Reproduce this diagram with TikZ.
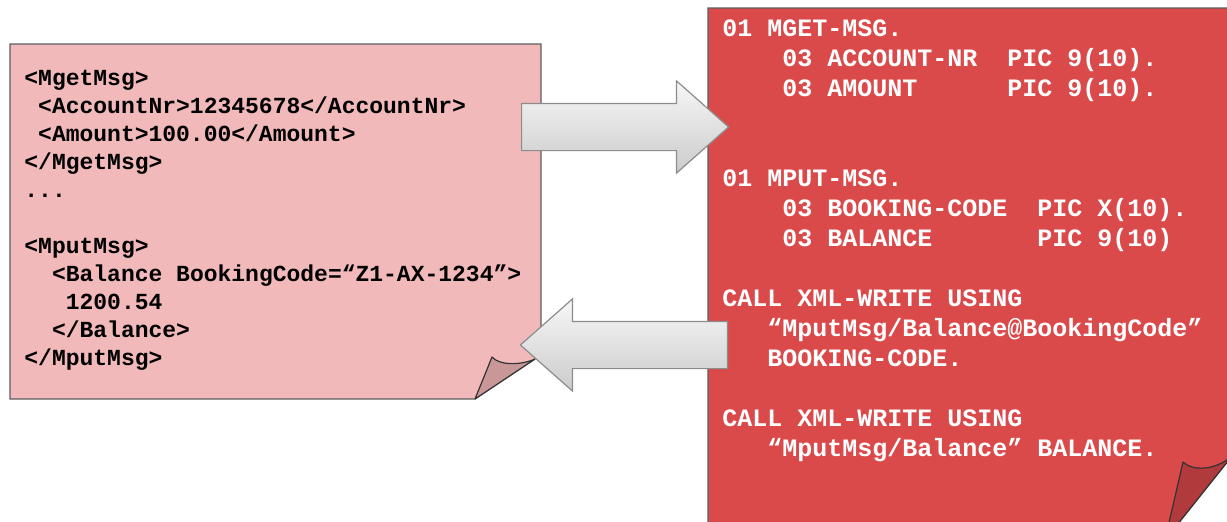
\documentclass[tikz,border=0pt]{standalone}
\usepackage{fontspec}
\newfontfamily\codefont{Liberation Mono}
\usetikzlibrary{shapes.arrows}

\definecolor{xmlpink}{HTML}{F2B9BA}
\definecolor{xmlflap}{HTML}{C99798}
\definecolor{cobolred}{HTML}{DB4A4B}
\definecolor{cobolflap}{HTML}{B13A3C}
\definecolor{notegray}{HTML}{5E5E5E}
\definecolor{arrowgray}{HTML}{8C8C8C}
\definecolor{arrowtop}{HTML}{F7F7F7}
\definecolor{arrowbot}{HTML}{CBCBCB}

% indent by n characters of the mono font
\newcommand{\pad}[1]{\hspace*{#1\dimexpr 0.6em\relax}}

\begin{document}
\begin{tikzpicture}[
  x=0.5pt, y=-0.5pt,
  note/.style      ={draw=notegray, line width=0.6pt},
  flap/.style      ={draw=black!80, line width=0.6pt, line join=round},
  listing/.style   ={inner sep=0pt, align=left, anchor=base west},
  blockarrow/.style={single arrow, draw=arrowgray, line width=0.6pt,
                     top color=arrowtop, bottom color=arrowbot,
                     inner xsep=0pt, inner ysep=11.5pt,
                     minimum width=45.5pt, minimum height=103.5pt,
                     single arrow head extend=11.25pt,
                     single arrow tip angle=83, anchor=tail},
]
\useasboundingbox (0,0) rectangle (1227,521);

%% ---- XML message (left note) ----
\draw[note, fill=xmlpink] (10,44) -- (541,44) -- (541,355) -- (475,399)
  -- (10,399) -- cycle;
\draw[flap, fill=xmlflap] (475,399) -- (492,357)
  .. controls (500,366) and (522,365) .. (535,359) -- cycle;

% anchored at the baseline of the last line
\node[listing, font={\codefont\bfseries\fontsize{11.5pt}{14pt}\selectfont}]
  (xml) at (24,365)
  {<MgetMsg>\\
   \pad{1}<AccountNr>12345678</AccountNr>\\
   \pad{1}<Amount>100.00</Amount>\\
   </MgetMsg>\\
   ...\\[14pt]
   <MputMsg>\\
   \pad{2}<Balance BookingCode=“Z1-AX-1234”>\\
   \pad{3}1200.54\\
   \pad{2}</Balance>\\
   </MputMsg>};

%% ---- COBOL program (right note) ----
\draw[note, fill=cobolred] (708,8) -- (1240,8) -- (1240,446) -- (1165,540)
  -- (708,540) -- cycle;
\draw[flap, fill=cobolflap] (1165,540) -- (1183,462)
  .. controls (1192,471) and (1215,471) .. (1232,456) -- cycle;

\node[listing, text=white, font={\codefont\bfseries\fontsize{12.5pt}{15pt}\selectfont}]
  (cobol) at (722,456)
  {01 MGET-MSG.\\
   \pad{4}03 ACCOUNT-NR~~PIC 9(10).\\
   \pad{4}03 AMOUNT~~~~~~PIC 9(10).\\[30pt]
   01 MPUT-MSG.\\
   \pad{4}03 BOOKING-CODE~~PIC X(10).\\
   \pad{4}03 BALANCE~~~~~~~PIC 9(10)\\[15pt]
   CALL XML-WRITE USING\\
   \pad{3}“MputMsg/Balance@BookingCode”\\
   \pad{3}BOOKING-CODE.\\[15pt]
   CALL XML-WRITE USING\\
   \pad{3}“MputMsg/Balance” BALANCE.};

%% ---- mapping arrows ----
\node[blockarrow] (toCobol) at (521,127) {};
\node[blockarrow, shape border rotate=180] (toXml) at (728,345) {};

\end{tikzpicture}
\end{document}
